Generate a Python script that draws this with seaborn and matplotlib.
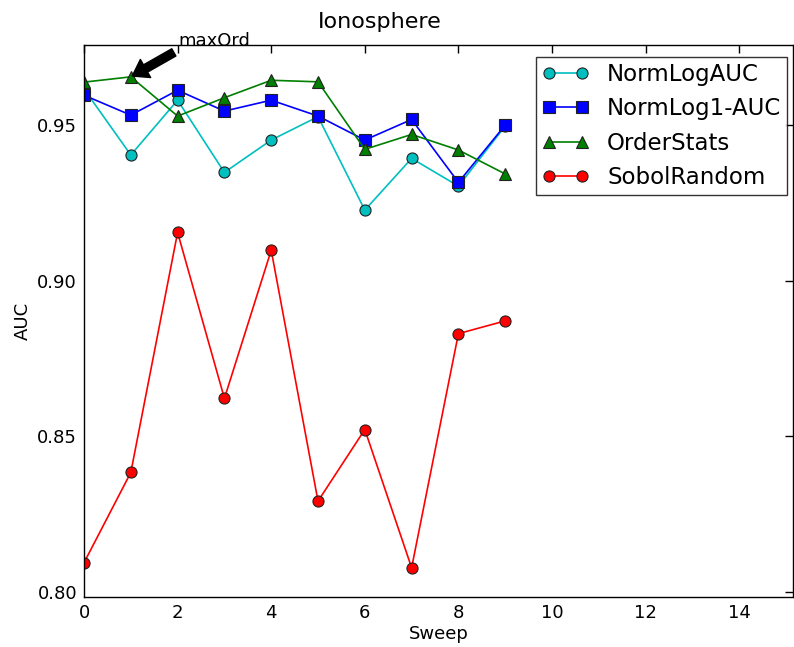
import matplotlib
matplotlib.use("Agg")
import matplotlib.pyplot as plt
import seaborn as sns
import pandas as pd
from matplotlib.ticker import FormatStrFormatter

sweep = [0, 1, 2, 3, 4, 5, 6, 7, 8, 9]
norm_log_auc = [0.9616, 0.9404, 0.9580, 0.9348, 0.9452, 0.9527, 0.9227, 0.9393, 0.9304, 0.9497]
norm_log1_auc = [0.9596, 0.9532, 0.9612, 0.9545, 0.9580, 0.9529, 0.9452, 0.9518, 0.9316, 0.9500]
order_stats = [0.9638, 0.9655, 0.9529, 0.9588, 0.9644, 0.9639, 0.9422, 0.9470, 0.9420, 0.9343]
sobol_random = [0.8094, 0.8384, 0.9155, 0.8622, 0.9098, 0.8292, 0.8522, 0.8078, 0.8830, 0.8871]

series_names = ["NormLogAUC", "NormLog1-AUC", "OrderStats", "SobolRandom"]
series_vals = [norm_log_auc, norm_log1_auc, order_stats, sobol_random]
colors = ["#00BFBF", "#0000FF", "#007F00", "#FF0000"]
markers = ["o", "s", "^", "o"]

df = pd.concat([pd.DataFrame({"Sweep": sweep, "AUC": v, "series": n})
                for n, v in zip(series_names, series_vals)], ignore_index=True)

sns.set_style("white")
plt.rcParams['font.family'] = ['DejaVu Sans']
plt.rcParams.update({"text.color": "black", "axes.labelcolor": "black",
                     "xtick.color": "black", "ytick.color": "black"})

fig = plt.figure(figsize=(7.94, 6.47), dpi=100)
ax = fig.add_axes([0.1058, 0.0773, 0.893, 0.853])

for n, c, m in zip(series_names, colors, markers):
    sub = df[df["series"] == n]
    sns.lineplot(data=sub, x="Sweep", y="AUC", ax=ax, color=c, marker=m,
                 markersize=8, markeredgecolor="#222222", markeredgewidth=0.8,
                 linewidth=1.2, label=n)

ax.set_xlim(0, 15.15)
ax.set_ylim(0.7984, 0.9757)
ax.set_xticks([0, 2, 4, 6, 8, 10, 12, 14])
ax.set_yticks([0.80, 0.85, 0.90, 0.95])
ax.yaxis.set_major_formatter(FormatStrFormatter('%.2f'))
ax.tick_params(direction="in", top=True, right=True, length=6, width=1,
               labelsize=13, colors="black", pad=5)
for s in ax.spines.values():
    s.set_color("black")
    s.set_linewidth(1)

ax.set_xlabel("Sweep", fontsize=13, labelpad=2)
ax.set_ylabel("AUC", fontsize=13, labelpad=4)
ax.set_title("Ionosphere", fontsize=16, pad=12, x=0.4175)

ax.annotate("maxOrd", xy=(1, order_stats[1]), xytext=(2.02, 0.9755),
            fontsize=13, annotation_clip=False,
            arrowprops=dict(facecolor="black", edgecolor="black", shrink=0.03,
                            width=6, headwidth=15, headlength=11))

leg = ax.legend(loc="upper right", fontsize=16.5, numpoints=2, fancybox=False,
                frameon=True, borderaxespad=0.0, handlelength=2.05,
                handletextpad=0.8, labelspacing=0.5, borderpad=0.25,
                bbox_to_anchor=(0.9915, 0.978))
leg.get_frame().set_edgecolor("black")
leg.get_frame().set_linewidth(1)

fig.savefig("out.png", dpi=100, facecolor="white")
